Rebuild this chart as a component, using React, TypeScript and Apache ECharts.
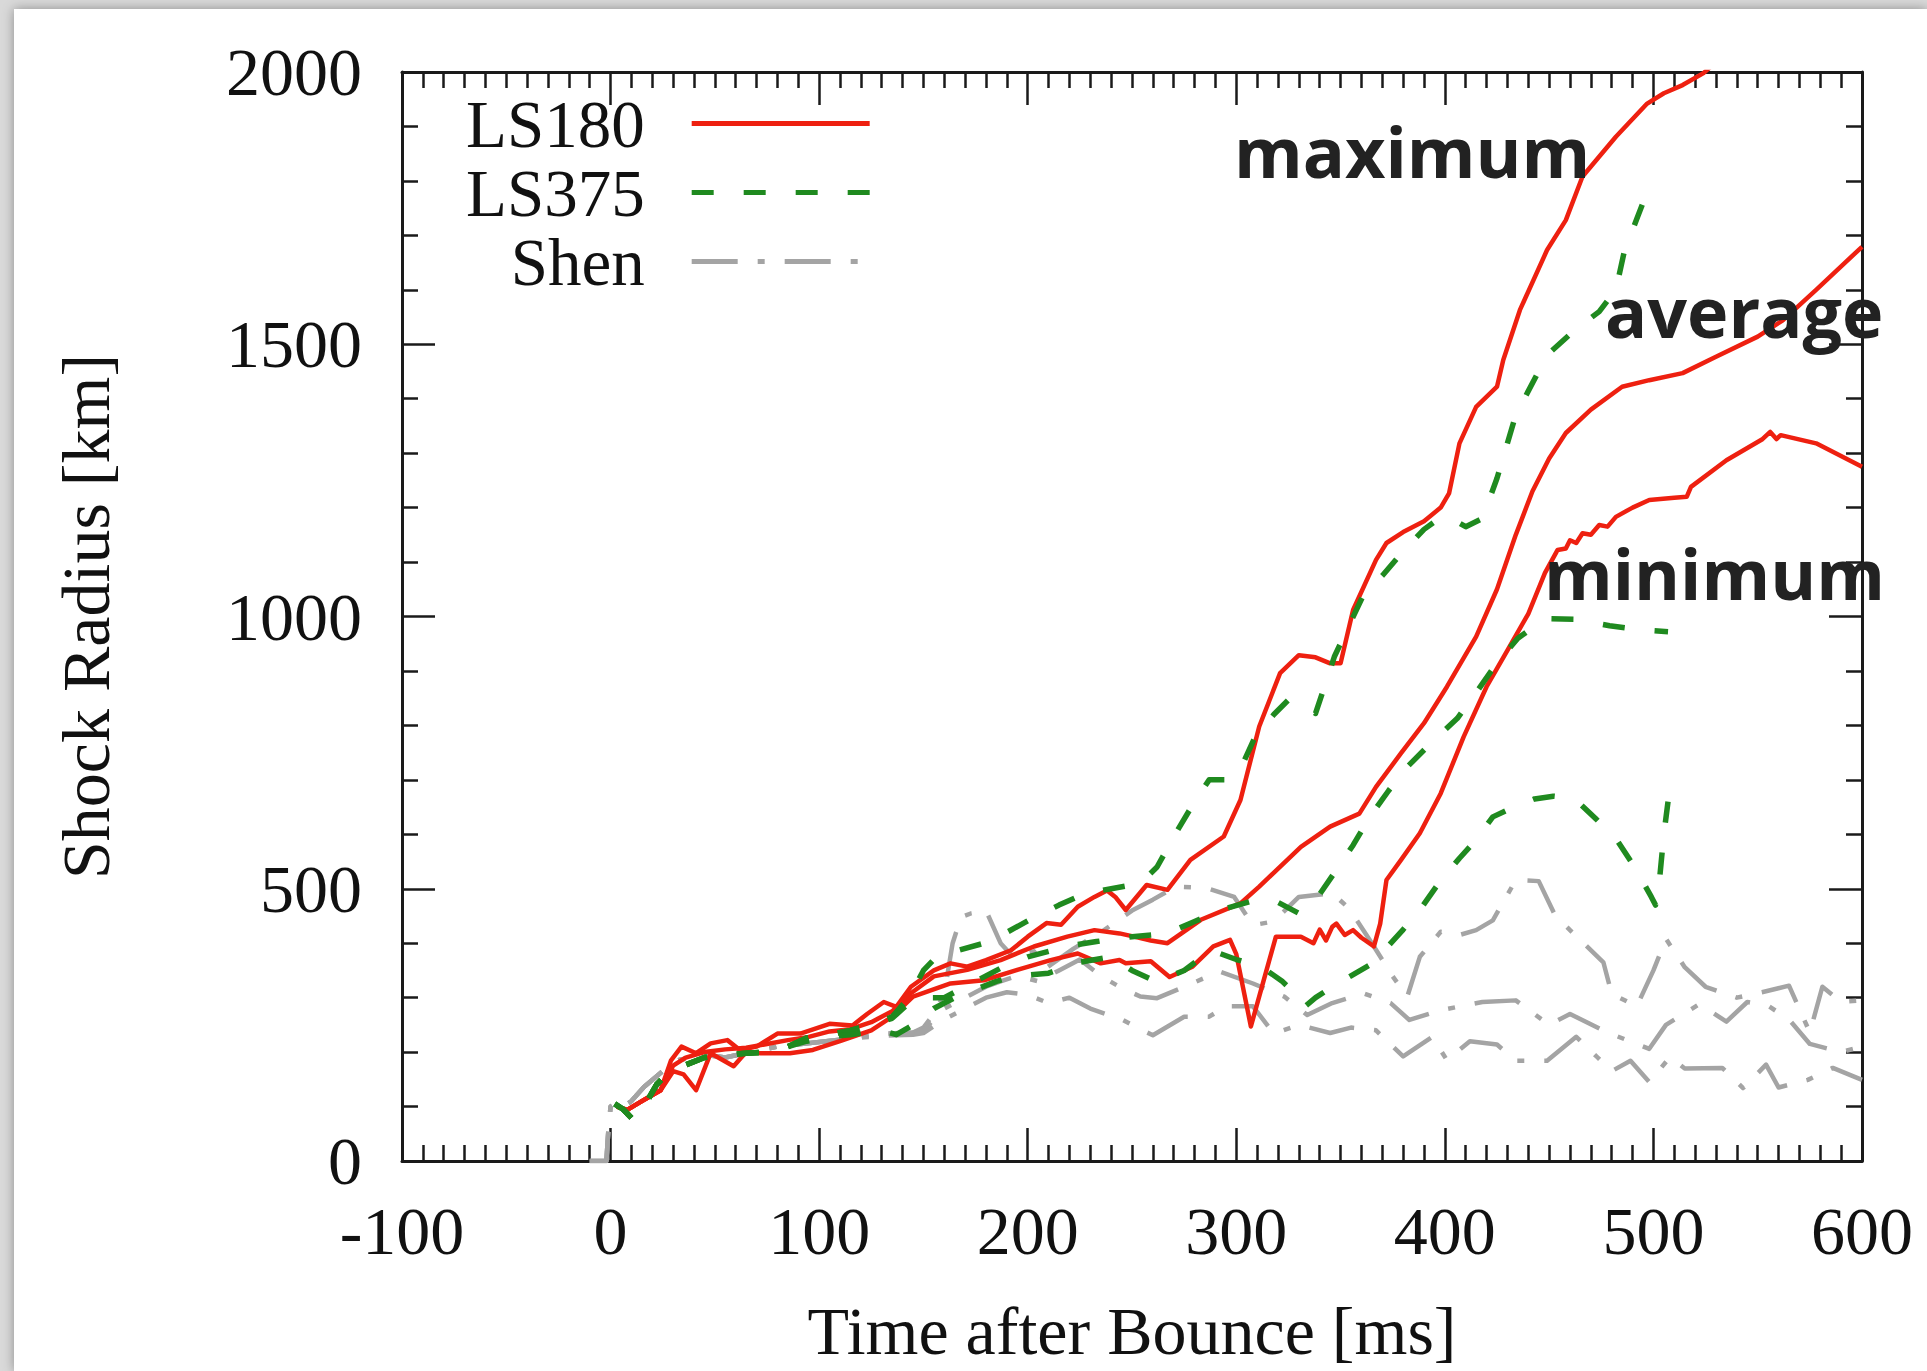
import React, { useEffect, useRef } from "react";
import * as echarts from "echarts";

// ---------- data (time after bounce [ms], shock radius [km]) ----------
const xTicks = [-100, 0, 100, 200, 300, 400, 500, 600];
const yTicks = [0, 500, 1000, 1500, 2000];
const legendNames = ["LS180", "LS375", "Shen"];

const ls180Max = [
  [3, 100], [8, 94], [15, 110], [24, 130], [29, 185], [34, 210], [41, 198], [48, 216], [56, 222], [62, 204],
  [70, 210], [80, 234], [91, 234], [105, 252], [116, 249], [123, 270], [131, 292], [137, 283], [144, 320],
  [155, 350], [163, 363], [171, 357], [180, 369], [192, 387], [200, 412], [209, 437], [216, 434], [224, 467],
  [232, 485], [238, 497], [242, 485], [247, 461], [257, 507], [267, 498], [278, 553], [294, 596], [302, 663],
  [311, 798], [321, 896], [330, 929], [338, 925], [345, 914], [350, 914], [356, 1012], [367, 1104], [372, 1135],
  [380, 1155], [390, 1175], [398, 1200], [402, 1226], [407, 1318], [415, 1385], [425, 1422], [428, 1471],
  [436, 1563], [449, 1673], [458, 1728], [466, 1808], [482, 1881], [497, 1942], [505, 1961], [514, 1976],
  [524, 1998], [532, 2025],
];
const ls180Avg = [
  [3, 100], [8, 94], [15, 110], [24, 130], [30, 175], [36, 190], [45, 200], [55, 205], [65, 208], [75, 215],
  [85, 222], [95, 228], [105, 238], [115, 242], [125, 255], [135, 275], [144, 308], [155, 339], [171, 351],
  [187, 369], [203, 394], [219, 412], [232, 424], [244, 418], [251, 412], [259, 405], [267, 400], [283, 443],
  [302, 473], [311, 504], [331, 577], [345, 614], [359, 638], [367, 687], [379, 749], [390, 804], [401, 871],
  [415, 963], [425, 1050], [434, 1150], [442, 1230], [450, 1290], [458, 1337], [470, 1380], [485, 1422],
  [498, 1434], [514, 1447], [530, 1477], [550, 1514], [562, 1544], [578, 1600], [600, 1679],
];
const ls180Min = [
  [3, 100], [8, 94], [15, 110], [24, 130], [30, 165], [35, 159], [41, 130], [48, 198], [59, 174], [65, 200],
  [72, 198], [86, 198], [97, 204], [110, 220], [125, 240], [135, 265], [145, 302], [163, 326], [179, 332],
  [195, 351], [211, 369], [224, 381], [235, 363], [244, 369], [247, 363], [259, 367], [268, 338], [279, 357],
  [289, 394], [297, 406], [300, 380], [307, 247], [313, 330], [319, 412], [331, 412], [337, 400], [340, 425],
  [343, 405], [346, 430], [348, 436], [352, 415], [356, 424], [360, 410], [366, 394], [369, 436], [372, 516],
  [379, 553], [388, 602], [398, 675], [409, 779], [420, 871], [430, 938], [440, 1005], [448, 1080], [454, 1122],
  [458, 1125], [460, 1140], [463, 1135], [466, 1153], [470, 1150], [474, 1168], [478, 1165], [482, 1183],
  [490, 1200], [498, 1214], [510, 1218], [516, 1220], [518, 1238], [535, 1287], [552, 1325], [556, 1339],
  [559, 1326], [561, 1333], [578, 1318], [600, 1275],
];

const ls375Max = [
  [2, 105], [6, 95], [11, 75], [16, 100], [22, 140], [27, 160], [35, 175], [45, 190], [55, 195], [65, 198],
  [75, 200], [85, 210], [94, 226], [105, 232], [115, 240], [125, 250], [135, 265], [143, 300], [150, 350],
  [155, 370], [165, 385], [179, 400], [190, 420], [201, 443], [215, 470], [228, 492], [240, 500], [254, 510],
  [262, 540], [271, 602], [280, 660], [287, 700], [295, 700], [302, 720], [309, 779], [318, 820], [325, 847],
  [333, 834], [338, 822], [347, 926], [361, 1040], [370, 1075], [380, 1120], [390, 1160], [398, 1182],
  [404, 1178], [410, 1165], [418, 1180], [425, 1254], [434, 1370], [449, 1480], [462, 1525], [474, 1560],
  [482, 1600], [486, 1670], [492, 1730], [497, 1780], [501, 1805],
];
const ls375Avg = [
  [2, 105], [6, 95], [11, 75], [16, 100], [22, 140], [27, 160], [35, 175], [45, 190], [55, 195], [65, 198],
  [75, 200], [85, 210], [94, 226], [105, 232], [115, 240], [125, 250], [135, 262], [143, 290], [150, 300],
  [160, 300], [170, 320], [180, 340], [190, 360], [200, 375], [210, 385], [220, 395], [233, 403], [238, 406],
  [250, 412], [267, 418], [280, 440], [295, 464], [310, 480], [320, 475], [330, 455], [340, 490], [347, 529],
  [356, 580], [364, 632], [373, 680], [382, 724], [394, 770], [406, 813], [415, 860], [425, 915], [435, 960],
  [448, 996], [462, 995], [479, 983], [495, 975], [507, 972],
];
const ls375Min = [
  [2, 105], [6, 95], [11, 75], [16, 100], [22, 140], [27, 160], [35, 175], [45, 190], [55, 195], [65, 198],
  [75, 200], [85, 210], [94, 220], [105, 228], [115, 232], [130, 240], [137, 232], [145, 250], [155, 280],
  [165, 300], [175, 315], [185, 330], [195, 340], [210, 345], [225, 365], [240, 375], [250, 350], [262, 329],
  [275, 350], [288, 387], [300, 370], [312, 357], [322, 330], [329, 305], [333, 284], [338, 300], [346, 320],
  [355, 340], [364, 360], [371, 387], [380, 425], [388, 461], [397, 510], [407, 556], [415, 590], [423, 632],
  [433, 650], [443, 665], [452, 670], [462, 666], [472, 630], [482, 592], [491, 540], [499, 485], [501, 470],
  [503, 520], [505, 600], [507, 660],
];

const shenMax = [
  [-10, 0], [-2, 0], [-1, 60], [0, 100], [3, 108], [6, 100], [10, 110], [16, 136], [25, 165], [32, 185],
  [45, 195], [55, 190], [67, 200], [80, 210], [99, 218], [115, 225], [131, 234], [145, 236], [150, 245],
  [155, 270], [160, 307], [164, 400], [168, 448], [173, 455], [180, 460], [187, 400], [193, 375], [203, 385],
  [209, 355], [222, 390], [235, 420], [250, 460], [260, 480], [271, 504], [286, 501], [299, 485], [308, 433],
  [318, 440], [330, 485], [346, 492], [354, 464], [365, 400], [375, 339], [382, 302], [388, 375], [398, 421],
  [407, 415], [415, 424], [423, 442], [434, 516], [445, 514], [453, 450], [466, 402], [476, 365], [480, 307],
  [492, 284], [500, 350], [506, 408], [515, 356], [525, 320], [540, 300], [552, 310], [565, 322], [575, 236],
  [581, 320], [590, 292], [600, 295],
];
const shenAvg = [
  [-10, 0], [-2, 0], [-1, 60], [0, 100], [3, 108], [6, 100], [10, 110], [16, 136], [25, 165], [32, 185],
  [45, 195], [55, 190], [67, 200], [80, 210], [99, 218], [115, 225], [131, 234], [145, 236], [150, 240],
  [160, 280], [170, 300], [180, 320], [187, 330], [195, 340], [205, 330], [215, 350], [225, 370], [235, 340],
  [244, 320], [254, 302], [262, 299], [275, 320], [292, 348], [308, 326], [323, 302], [334, 268], [346, 290],
  [361, 308], [374, 290], [383, 259], [398, 277], [418, 292], [434, 295], [450, 250], [460, 270], [478, 236],
  [498, 206], [506, 250], [522, 288], [535, 256], [545, 292], [555, 285], [565, 260], [575, 215], [590, 200],
  [600, 210],
];
const shenMin = [
  [-10, 0], [-2, 0], [-1, 60], [0, 100], [3, 108], [6, 100], [10, 110], [16, 136], [25, 165], [32, 185],
  [45, 195], [55, 190], [67, 200], [80, 210], [99, 218], [115, 225], [131, 230], [145, 232], [150, 235],
  [160, 260], [170, 280], [180, 300], [190, 310], [200, 305], [210, 290], [220, 300], [230, 280], [245, 260],
  [255, 240], [260, 231], [275, 265], [287, 265], [295, 284], [308, 284], [318, 234], [330, 250], [345, 235],
  [355, 245], [367, 240], [380, 192], [394, 228], [401, 185], [412, 220], [425, 214], [434, 184], [449, 184],
  [463, 228], [473, 191], [480, 165], [489, 184], [498, 145], [508, 191], [515, 170], [533, 171], [543, 134],
  [554, 177], [560, 135], [574, 149], [586, 171], [600, 149],
];

const RED = "#ee2010";
const GREEN = "#1f8a1f";
const GRAY = "#a4a4a4";
const SERIF = "'Liberation Serif', 'Times New Roman', serif";
const SANS = "'Open Sans', 'Noto Sans', sans-serif";
const GREEN_DASH = [22, 30];
const GRAY_DASH = [46, 20, 7, 20];

function lineSeries(name: string, data: number[][], color: string, type: any, width: number, z: number) {
  return {
    type: "line",
    name,
    data,
    symbol: "none",
    showSymbol: false,
    smooth: false,
    z,
    lineStyle: { color, width, type, cap: "butt", join: "round" },
    itemStyle: { color },
    emphasis: { disabled: true },
  };
}

const tickLine = { color: "#1a1a1a", width: 2.5 };

function axisBase(showLabel: boolean, margin: number, splitNumber: number) {
  return {
    axisLine: { show: true, onZero: false, lineStyle: { color: "#1a1a1a", width: 3 } },
    axisTick: { show: true, inside: true, length: 33, lineStyle: tickLine },
    minorTick: { show: true, splitNumber, length: 16, lineStyle: tickLine },
    splitLine: { show: false },
    minorSplitLine: { show: false },
    axisLabel: {
      show: showLabel,
      fontFamily: SERIF,
      fontSize: 68,
      color: "#111",
      margin,
      formatter: (v: number) => String(v),
    },
  };
}

export default function App() {
  const ref = useRef<HTMLDivElement>(null);
  useEffect(() => {
    if (!ref.current) return;
    const chart = echarts.init(ref.current, null, { renderer: "svg" });
    const xMin = xTicks[0];
    const xMax = xTicks[xTicks.length - 1];
    const yMin = yTicks[0];
    const yMax = yTicks[yTicks.length - 1];
    const option: any = {
      animation: false,
      backgroundColor: "#d9d9d9",
      grid: { left: 402, right: 65, top: 72, bottom: 210, containLabel: false },
      legend: {
        data: legendNames,
        orient: "vertical",
        left: 466,
        top: 89,
        align: "right",
        itemWidth: 178,
        itemHeight: 20,
        itemGap: 0,
        padding: 0,
        selectedMode: false,
        itemStyle: { opacity: 0 },
        lineStyle: { width: 5 },
        textStyle: { fontFamily: SERIF, fontSize: 67, color: "#111", lineHeight: 69, padding: [0, 42, 0, 0] },
      },
      xAxis: [
        {
          type: "value",
          position: "bottom",
          min: xMin,
          max: xMax,
          interval: 100,
          ...axisBase(true, 36, 10),
          name: "Time after Bounce [ms]",
          nameLocation: "middle",
          nameGap: 136,
          nameTextStyle: { fontFamily: SERIF, fontSize: 68, color: "#111" },
        },
        {
          type: "value",
          position: "top",
          min: xMin,
          max: xMax,
          interval: 100,
          ...axisBase(false, 36, 10),
        },
      ],
      yAxis: [
        {
          type: "value",
          position: "left",
          min: yMin,
          max: yMax,
          interval: 500,
          ...axisBase(true, 40, 5),
          name: "Shock Radius [km]",
          nameLocation: "middle",
          nameRotate: 90,
          nameGap: 282,
          nameTextStyle: { fontFamily: SERIF, fontSize: 68, color: "#111" },
        },
        {
          type: "value",
          position: "right",
          min: yMin,
          max: yMax,
          interval: 500,
          ...axisBase(false, 40, 5),
        },
      ],
      series: [
        lineSeries("LS180", ls180Max, RED, "solid", 4.5, 5),
        lineSeries("LS180", ls180Avg, RED, "solid", 4.5, 5),
        lineSeries("LS180", ls180Min, RED, "solid", 4.5, 5),
        lineSeries("LS375", ls375Max, GREEN, GREEN_DASH, 5.5, 6),
        lineSeries("LS375", ls375Avg, GREEN, GREEN_DASH, 5.5, 6),
        lineSeries("LS375", ls375Min, GREEN, GREEN_DASH, 5.5, 6),
        lineSeries("Shen", shenMax, GRAY, GRAY_DASH, 4.5, 4),
        lineSeries("Shen", shenAvg, GRAY, GRAY_DASH, 4.5, 4),
        lineSeries("Shen", shenMin, GRAY, GRAY_DASH, 4.5, 4),
      ],
      graphic: [
        {
          type: "rect",
          z: -100,
          silent: true,
          shape: { x: 14, y: 9, width: 1913, height: 1362 },
          style: { fill: "#ffffff", shadowBlur: 12, shadowColor: "rgba(0,0,0,0.35)" },
        },
        {
          type: "text", z: 100, x: 1234, y: 151,
          style: { text: "maximum", fontFamily: SANS, fontWeight: "bold", fontSize: 70, fill: "#222", verticalAlign: "middle" },
        },
        {
          type: "text", z: 100, x: 1605, y: 311,
          style: { text: "average", fontFamily: SANS, fontWeight: "bold", fontSize: 70, fill: "#222", verticalAlign: "middle" },
        },
        {
          type: "text", z: 100, x: 1544, y: 573,
          style: { text: "minimum", fontFamily: SANS, fontWeight: "bold", fontSize: 70, fill: "#222", verticalAlign: "middle" },
        },
      ],
    };
    chart.setOption(option);
    return () => chart.dispose();
  }, []);
  return (
    <div
      ref={ref}
      style={{ position: "absolute", left: 0, top: 0, width: 1927, height: 1371 }}
    />
  );
}
